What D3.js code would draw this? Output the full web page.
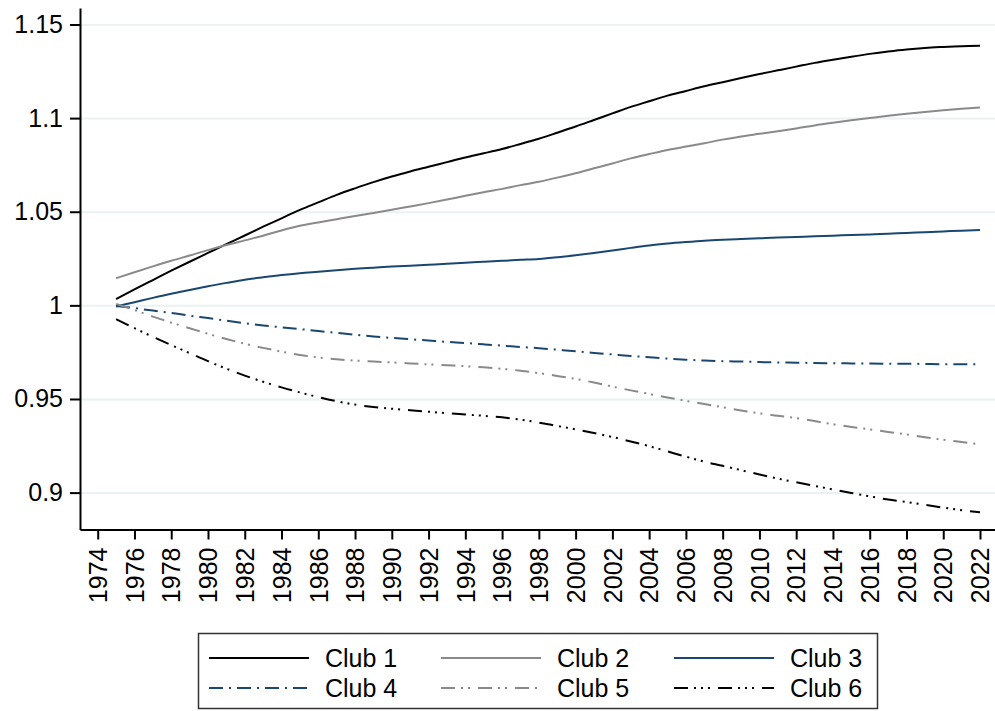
<!DOCTYPE html>
<html lang="en">
<head>
  <meta charset="UTF-8">
  <title>Clubs</title>
  <script src="https://cdn.jsdelivr.net/npm/d3@7/dist/d3.min.js"></script>
  <style>
    body { margin: 0; padding: 0; background: #fff; }
  </style>
</head>
<body>
  <div id="svg-root"></div>
  <script>
    // data, one value per year
    const years = [1975, 1976, 1977, 1978, 1979, 1980, 1981, 1982, 1983, 1984, 1985, 1986,
      1987, 1988, 1989, 1990, 1991, 1992, 1993, 1994, 1995, 1996, 1997, 1998,
      1999, 2000, 2001, 2002, 2003, 2004, 2005, 2006, 2007, 2008, 2009, 2010,
      2011, 2012, 2013, 2014, 2015, 2016, 2017, 2018, 2019, 2020, 2021, 2022];

    const club1 = [1.0033, 1.0085, 1.0135, 1.0185, 1.0233, 1.0280, 1.0327, 1.0373, 1.0420, 1.0465, 1.0510, 1.0550,
      1.0590, 1.0625, 1.0658, 1.0688, 1.0715, 1.0740, 1.0765, 1.0790, 1.0812, 1.0835, 1.0862, 1.0890,
      1.0922, 1.0955, 1.0990, 1.1025, 1.1060, 1.1090, 1.1120, 1.1145, 1.1170, 1.1192, 1.1214, 1.1235,
      1.1255, 1.1275, 1.1295, 1.1312, 1.1328, 1.1343, 1.1356, 1.1367, 1.1375, 1.1380, 1.1384, 1.1386];
    const club2 = [1.0145, 1.0177, 1.0208, 1.0238, 1.0266, 1.0295, 1.0322, 1.0347, 1.0372, 1.0400, 1.0425, 1.0443,
      1.0460, 1.0477, 1.0493, 1.0510, 1.0528, 1.0546, 1.0565, 1.0585, 1.0604, 1.0622, 1.0642, 1.0660,
      1.0682, 1.0706, 1.0732, 1.0758, 1.0785, 1.0808, 1.0830, 1.0848, 1.0866, 1.0885, 1.0902, 1.0916,
      1.0930, 1.0945, 1.0961, 1.0975, 1.0988, 1.1000, 1.1012, 1.1023, 1.1033, 1.1042, 1.1050, 1.1057];
    const club3 = [0.9994, 1.0017, 1.0040, 1.0062, 1.0082, 1.0102, 1.0120, 1.0137, 1.0150, 1.0162, 1.0172, 1.0180,
      1.0188, 1.0195, 1.0201, 1.0207, 1.0212, 1.0217, 1.0222, 1.0228, 1.0233, 1.0238, 1.0243, 1.0248,
      1.0257, 1.0268, 1.0280, 1.0293, 1.0307, 1.0320, 1.0330, 1.0338, 1.0345, 1.0350, 1.0354, 1.0358,
      1.0362, 1.0365, 1.0369, 1.0372, 1.0376, 1.0379, 1.0383, 1.0387, 1.0391, 1.0395, 1.0399, 1.0402];
    const club4 = [0.9997, 0.9985, 0.9972, 0.9960, 0.9945, 0.9932, 0.9918, 0.9905, 0.9893, 0.9883, 0.9873, 0.9863,
      0.9853, 0.9843, 0.9834, 0.9826, 0.9819, 0.9812, 0.9805, 0.9799, 0.9792, 0.9785, 0.9778, 0.9771,
      0.9763, 0.9755, 0.9746, 0.9738, 0.9730, 0.9723, 0.9716, 0.9710, 0.9705, 0.9702, 0.9700, 0.9697,
      0.9695, 0.9694, 0.9692, 0.9691, 0.9690, 0.9689, 0.9688, 0.9688, 0.9687, 0.9686, 0.9686, 0.9685];
    const club5 = [1.0008, 0.9975, 0.9940, 0.9908, 0.9878, 0.9848, 0.9820, 0.9795, 0.9773, 0.9753, 0.9735, 0.9722,
      0.9712, 0.9705, 0.9700, 0.9695, 0.9690, 0.9685, 0.9680, 0.9675, 0.9669, 0.9661, 0.9651, 0.9638,
      0.9623, 0.9607, 0.9588, 0.9566, 0.9546, 0.9527, 0.9508, 0.9490, 0.9473, 0.9456, 0.9439, 0.9423,
      0.9410, 0.9398, 0.9382, 0.9365, 0.9351, 0.9338, 0.9324, 0.9311, 0.9296, 0.9282, 0.9270, 0.9258];
    const club6 = [0.9926, 0.9878, 0.9832, 0.9788, 0.9745, 0.9702, 0.9662, 0.9625, 0.9592, 0.9562, 0.9535, 0.9510,
      0.9488, 0.9470, 0.9457, 0.9448, 0.9440, 0.9432, 0.9424, 0.9417, 0.9410, 0.9402, 0.9390, 0.9374,
      0.9356, 0.9338, 0.9318, 0.9297, 0.9273, 0.9248, 0.9220, 0.9192, 0.9165, 0.9143, 0.9120, 0.9097,
      0.9075, 0.9055, 0.9036, 0.9017, 0.8998, 0.8980, 0.8963, 0.8950, 0.8935, 0.8920, 0.8906, 0.8895];

    const clubNames = ['Club 1', 'Club 2', 'Club 3', 'Club 4', 'Club 5', 'Club 6'];
    const yTicks = [0.9, 0.95, 1, 1.05, 1.1, 1.15];
    const yTickLabels = ['0.9', '0.95', '1', '1.05', '1.1', '1.15'];
    const xTicks = [1974, 1976, 1978, 1980, 1982, 1984, 1986, 1988, 1990, 1992, 1994, 1996,
      1998, 2000, 2002, 2004, 2006, 2008, 2010, 2012, 2014, 2016, 2018, 2020, 2022];

    // line looks, same order as clubNames
    const navy = '#1a476f';
    const grey = '#8a8a8a';
    const looks = [
      { color: '#000', dash: null },
      { color: grey, dash: null },
      { color: navy, dash: null },
      { color: navy, dash: '14,6,2,6' },
      { color: grey, dash: '14,6,2,5,2,8' },
      { color: '#000', dash: '14,6,2,5,2,5,2,8' }
    ];

    const W = 995, H = 711;
    const plot = { left: 80, right: 995, top: 8, bottom: 529.5 };
    const font = '"Liberation Sans", Arial, Helvetica, sans-serif';

    const svg = d3.create('svg')
      .attr('width', W)
      .attr('height', H)
      .style('display', 'block')
      .style('background', '#fff')
      .style('font-family', font);

    const x = d3.scaleLinear()
      .domain([1973.037, 2022.816])
      .range([plot.left, plot.right]);

    const y = d3.scaleLinear()
      .domain([0.8803, 1.1588])
      .range([plot.bottom, plot.top]);

    // grid lines
    svg.append('g')
      .attr('transform', 'translate(' + plot.left + ',0)')
      .call(d3.axisLeft(y).tickValues(yTicks).tickSize(-(plot.right - plot.left)).tickFormat(''))
      .call(g => g.select('.domain').remove())
      .call(g => g.selectAll('line').attr('stroke', '#eaf2f3').attr('stroke-width', 2));

    // series
    const series = [club1, club2, club3, club4, club5, club6];
    const line = d3.line()
      .x((d, i) => x(years[i]))
      .y(d => y(d))
      .curve(d3.curveMonotoneX);

    svg.append('g')
      .selectAll('path')
      .data(series)
      .enter()
      .append('path')
      .attr('d', d => line(d))
      .attr('fill', 'none')
      .attr('stroke', (d, i) => looks[i].color)
      .attr('stroke-width', 2)
      .attr('stroke-dasharray', (d, i) => looks[i].dash);

    // y axis
    svg.append('g')
      .attr('transform', 'translate(' + plot.left + ',0)')
      .call(d3.axisLeft(y).tickValues(yTicks).tickSize(10).tickSizeOuter(0).tickPadding(7)
        .tickFormat((d, i) => yTickLabels[i]))
      .call(g => g.selectAll('path, line').attr('stroke', '#000').attr('stroke-width', 2))
      .call(g => g.selectAll('text').attr('font-size', 25).attr('font-family', font).attr('fill', '#000'));

    // x axis, labels turned upright
    svg.append('g')
      .attr('transform', 'translate(0,' + plot.bottom + ')')
      .call(d3.axisBottom(x).tickValues(xTicks).tickSize(10).tickSizeOuter(0).tickFormat(d => d))
      .call(g => g.selectAll('path, line').attr('stroke', '#000').attr('stroke-width', 2))
      .call(g => g.selectAll('text')
        .attr('font-size', 25)
        .attr('font-family', font)
        .attr('fill', '#000')
        .attr('transform', 'rotate(-90)')
        .attr('text-anchor', 'end')
        .attr('x', -18)
        .attr('y', 0)
        .attr('dy', '0.35em'));

    // legend
    const legend = svg.append('g');
    legend.append('rect')
      .attr('x', 198.5)
      .attr('y', 633.5)
      .attr('width', 679)
      .attr('height', 75)
      .attr('fill', '#fff')
      .attr('stroke', '#333')
      .attr('stroke-width', 1.5);

    const colX = [209, 441, 674];
    const rowY = [658, 688];
    const item = legend.selectAll('g.item')
      .data(clubNames)
      .enter()
      .append('g')
      .attr('class', 'item')
      .attr('transform', (d, i) => 'translate(' + colX[i % 3] + ',' + rowY[Math.floor(i / 3)] + ')');

    item.append('line')
      .attr('x1', 0)
      .attr('x2', 100)
      .attr('stroke', (d, i) => looks[i].color)
      .attr('stroke-width', 2)
      .attr('stroke-dasharray', (d, i) => looks[i].dash);

    item.append('text')
      .attr('x', 116)
      .attr('dy', '0.35em')
      .attr('font-size', 25)
      .attr('fill', '#000')
      .text(d => d);

    document.getElementById('svg-root').append(svg.node());
  </script>
</body>
</html>
